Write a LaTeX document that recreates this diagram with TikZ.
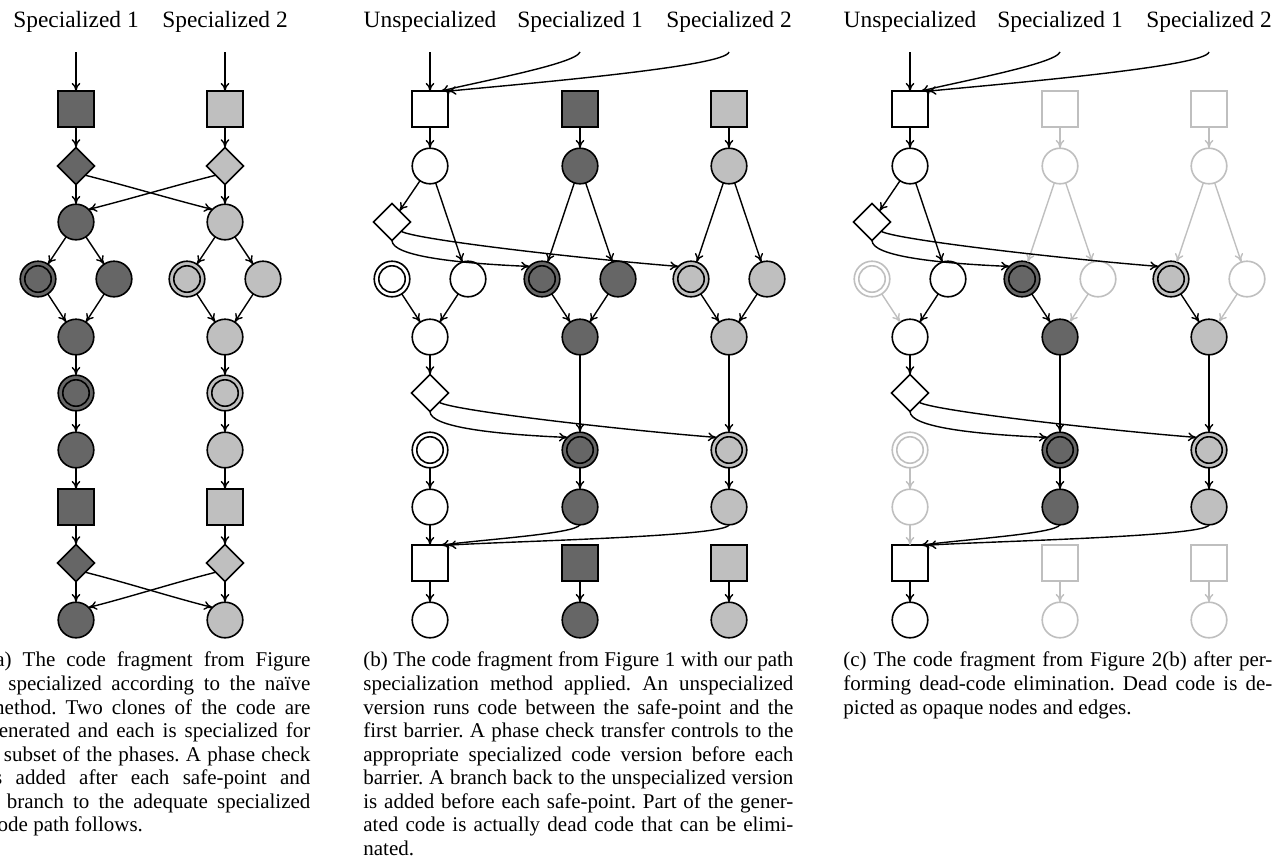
\documentclass[tikz,border=0pt]{standalone}
\usepackage{fontspec}
\setmainfont{Liberation Serif}
\usepackage{xcolor}
\usetikzlibrary{arrows.meta, calc, shapes.geometric}
\definecolor{spdark}{gray}{0.4}
\definecolor{splight}{gray}{0.75}
\definecolor{deadgray}{gray}{0.75}
\frenchspacing
\tikzset{
	shp/.style={line width=0.8pt, inner sep=0pt, outer sep=0pt},
	sq/.style={shp, rectangle, minimum size=17.8pt},
	cir/.style={shp, circle, minimum size=17.8pt},
	dia/.style={shp, diamond, minimum size=18.5pt},
	dbl/.style={cir, path picture={\draw[line width=0.8pt, #1] (path picture bounding box.center) circle (6.6pt);}},
	dbl/.default=black,
	unsp/.style={draw=black, fill=white},
	spa/.style={draw=black, fill=spdark},
	spb/.style={draw=black, fill=splight},
	dead/.style={draw=deadgray, fill=white},
	arr/.style={line width=0.7pt, -{To[length=4.2pt, width=4.4pt]}},
	deadarr/.style={arr, draw=deadgray},
	keep/.style={d0/.style={unsp}, d1/.style={spa}, d2/.style={spb}, dd/.style={dbl}, darr/.style={arr}},
	fade/.style={d0/.style={dead}, d1/.style={dead}, d2/.style={dead}, dd/.style={dbl=deadgray}, darr/.style={deadarr}},
	title/.style={anchor=base, inner sep=0pt, font=\fontsize{11.7}{14}\selectfont},
	capt/.style={anchor=north west, inner sep=0pt, align=justify, font=\fontsize{10.5}{11.78}\selectfont}
}
\begin{document}
\begin{tikzpicture}[x=0.5pt, y=-0.5pt]
	\useasboundingbox (0,0) rectangle (1277,858);

	\node[title] (at1) at (76,27) {Specialized 1};
	\node[title] (at2) at (225,27) {Specialized 2};
	\foreach \k/\x/\f in {1/76/spa, 2/225/spb}{
		\coordinate (a\k in) at (\x,52);
		\node[sq, \f] (a\k r1) at (\x,109) {};
		\node[dia, \f] (a\k r2) at (\x,166) {};
		\node[cir, \f] (a\k r3) at (\x,222) {};
		\node[dbl, \f] (a\k r4l) at (\x-38,279) {};
		\node[cir, \f] (a\k r4r) at (\x+38,279) {};
		\node[cir, \f] (a\k r5) at (\x,337) {};
		\node[dbl, \f] (a\k r6) at (\x,393) {};
		\node[cir, \f] (a\k r7) at (\x,450) {};
		\node[sq, \f] (a\k r8) at (\x,507) {};
		\node[dia, \f] (a\k r9) at (\x,563) {};
		\node[cir, \f] (a\k r10) at (\x,620) {};
		\foreach \s/\t in {in/r1, r1/r2, r2/r3, r3/r4l, r3/r4r, r4l/r5, r4r/r5, r5/r6, r6/r7, r7/r8, r8/r9, r9/r10}
			\draw[arr] (a\k\s) -- (a\k\t);
	}
	\draw[arr] (a1r2.south east) .. controls +(40,10) and +(-40,-10) .. (a2r3.north west);
	\draw[arr] (a2r2.south west) .. controls +(-40,10) and +(40,-10) .. (a1r3.north east);
	\draw[arr] (a1r9.south east) .. controls +(40,10) and +(-40,-10) .. (a2r10.north west);
	\draw[arr] (a2r9.south west) .. controls +(-40,10) and +(40,-10) .. (a1r10.north east);

	\foreach \p/\o/\m in {b/0/keep, c/480/fade}{
		\begin{scope}[shift={(\o,0)}, \m]
			\node[title] (\p t0) at (430,27) {Unspecialized};
			\node[title] (\p t1) at (580,27) {Specialized 1};
			\node[title] (\p t2) at (729,27) {Specialized 2};
			\coordinate (\p in0) at (430,52);
			\coordinate (\p in1) at (580,52);
			\coordinate (\p in2) at (729,52);
			\node[sq, unsp] (\p0r1) at (430,109) {};
			\node[cir, unsp] (\p0r2) at (430,166) {};
			\node[dia, unsp] (\p0r3) at (392,222) {};
			\node[dd, d0] (\p0r4l) at (392,279) {};
			\node[cir, unsp] (\p0r4r) at (468,279) {};
			\node[cir, unsp] (\p0r5) at (430,337) {};
			\node[dia, unsp] (\p0r6) at (430,393) {};
			\node[dd, d0] (\p0r7) at (430,450) {};
			\node[cir, d0] (\p0r8) at (430,507) {};
			\node[sq, unsp] (\p0r9) at (430,563) {};
			\node[cir, unsp] (\p0r10) at (430,620) {};
			\foreach \k/\x/\f in {1/580/spa, 2/729/spb}{
				\node[sq, d\k] (\p\k r1) at (\x,109) {};
				\node[cir, d\k] (\p\k r2) at (\x,166) {};
				\node[dbl, \f] (\p\k r4l) at (\x-38,279) {};
				\node[cir, d\k] (\p\k r4r) at (\x+38,279) {};
				\node[cir, \f] (\p\k r5) at (\x,337) {};
				\node[dbl, \f] (\p\k r7) at (\x,450) {};
				\node[cir, \f] (\p\k r8) at (\x,507) {};
				\node[sq, d\k] (\p\k r9) at (\x,563) {};
				\node[cir, d\k] (\p\k r10) at (\x,620) {};
			}
			\foreach \s/\t in {in0/0r1, 0r1/0r2, 0r2/0r3, 0r2/0r4r, 0r4r/0r5, 0r5/0r6, 0r9/0r10, 1r4l/1r5, 1r5/1r7, 1r7/1r8, 2r4l/2r5, 2r5/2r7, 2r7/2r8}
				\draw[arr] (\p\s) -- (\p\t);
			\foreach \s/\t in {0r4l/0r5, 0r7/0r8, 0r8/0r9, 1r1/1r2, 1r2/1r4l, 1r2/1r4r, 1r4r/1r5, 1r9/1r10, 2r1/2r2, 2r2/2r4l, 2r2/2r4r, 2r4r/2r5, 2r9/2r10}
				\draw[darr] (\p\s) -- (\p\t);
			\draw[arr] (\p in1) .. controls +(-4,12) and +(35,-9) .. ($(\p0r1.north)!0.6!(\p0r1.north east)$);
			\draw[arr] (\p in2) .. controls +(-3,15) and +(70,-7) .. (\p0r1.north east);
			\draw[arr] (\p0r3.south) .. controls +(0,16) and +(-70,-3) .. (\p1r4l.north west);
			\draw[arr] (\p0r3.south east) .. controls +(12,8) and +(-100,-8) .. (\p2r4l.north west);
			\draw[arr] (\p0r6.south) .. controls +(0,16) and +(-70,-3) .. (\p1r7.north west);
			\draw[arr] (\p0r6.south east) .. controls +(12,8) and +(-100,-8) .. (\p2r7.north west);
			\draw[arr] (\p1r8.south) .. controls +(-5,9) and +(45,-6) .. ($(\p0r9.north)!0.6!(\p0r9.north east)$);
			\draw[arr] (\p2r8.south) .. controls +(-3,12) and +(60,-4) .. (\p0r9.north east);
		\end{scope}
	}

	\node[capt, text width=161pt] (acap) at (-12,650) {\tolerance=10000\hyphenpenalty=10000\strut(a) The code fragment from Figure\linebreak 1 specialized according to the naïve\linebreak method. Two clones of the code are\linebreak generated and each is specialized for\linebreak a subset of the phases. A phase check\linebreak is added after each safe-point and\linebreak a branch to the adequate specialized\linebreak code path follows.};
	\node[capt, text width=215pt] (bcap) at (363,650) {\tolerance=10000\hyphenpenalty=10000\strut(b) The code fragment from Figure 1 with our path\linebreak specialization method applied. An unspecialized\linebreak version runs code between the safe-point and the\linebreak first barrier. A phase check transfer controls to the\linebreak appropriate specialized code version before each\linebreak barrier. A branch back to the unspecialized version\linebreak is added before each safe-point. Part of the gener-\linebreak ated code is actually dead code that can be elimi-\linebreak nated.};
	\node[capt, text width=214.5pt] (ccap) at (843,650) {\tolerance=10000\hyphenpenalty=10000\strut(c) The code fragment from Figure 2(b) after per-\linebreak forming dead-code elimination. Dead code is de-\linebreak picted as opaque nodes and edges.};
\end{tikzpicture}
\end{document}
